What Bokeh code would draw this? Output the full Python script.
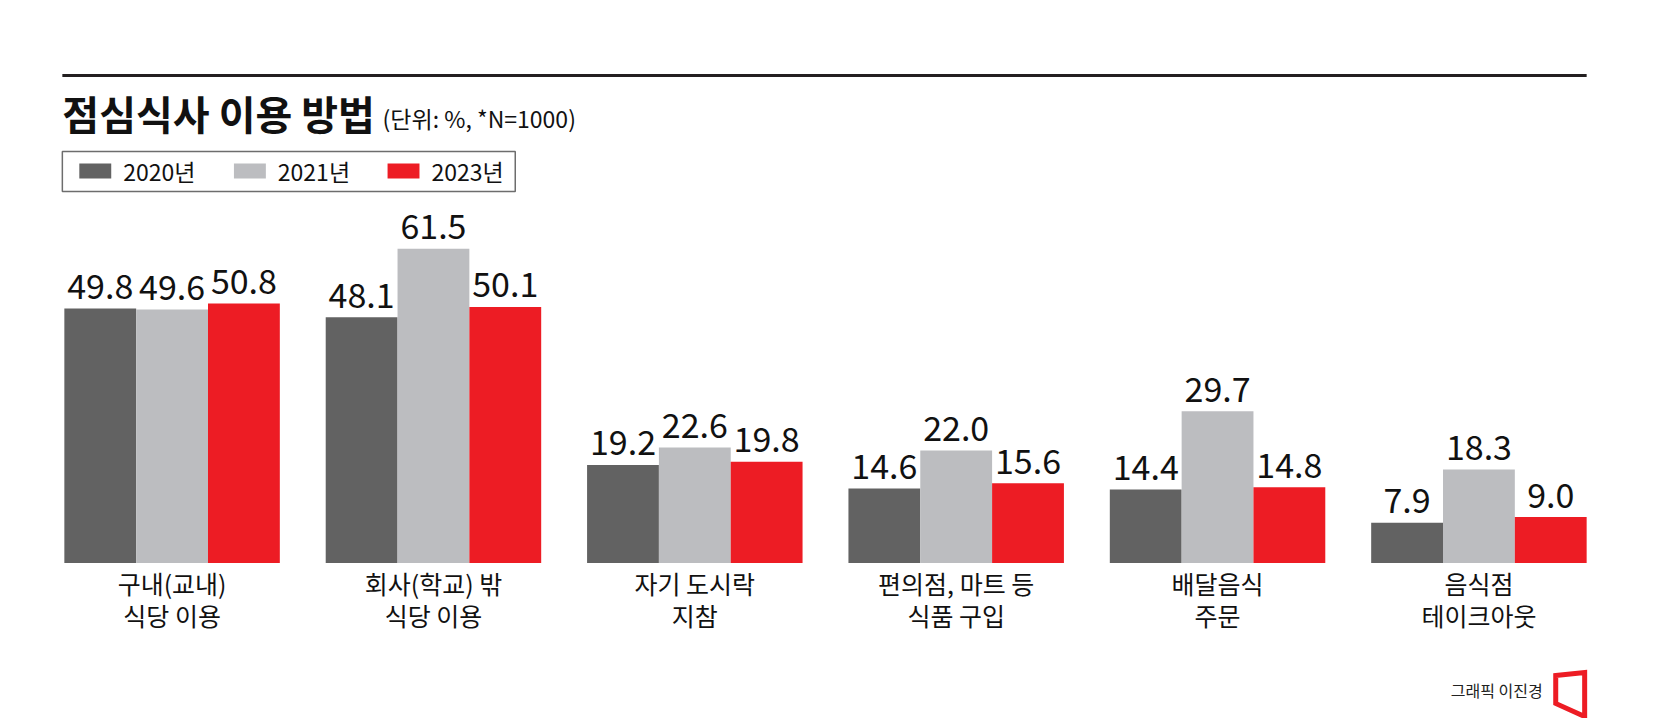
from bokeh.plotting import figure
from bokeh.models import ColumnDataSource, FactorRange, Range1d
from bokeh.core.properties import value
from bokeh.embed import file_html
from bokeh.resources import INLINE

# data (unit: %, N=1000)
categories = ["구내(교내)\n식당 이용", "회사(학교) 밖\n식당 이용", "자기 도시락\n지참",
              "편의점, 마트 등\n식품 구입", "배달음식\n주문", "음식점\n테이크아웃"]
years = ["2020년", "2021년", "2023년"]
v2020 = [49.8, 48.1, 19.2, 14.6, 14.4, 7.9]
v2021 = [49.6, 61.5, 22.6, 22.0, 29.7, 18.3]
v2023 = [50.8, 50.1, 19.8, 15.6, 14.8, 9.0]
colors = ["#626262", "#bcbdc0", "#ed1c24"]

FONT = "Noto Sans CJK KR"
W, H = 1650, 718
UNIT = 72          # px per bar
LEFT = 64          # px where the first bar starts
ZERO_Y = 562.5     # px of value 0
PX_PER = 5.11      # px per percent


# pixel -> data coords, only used for decorations (title, legend, credit)
def xpx(px):
    return (px - LEFT) / UNIT


def ypx(py):
    return (ZERO_Y - py) / PX_PER


factors = [(c, y) for c in categories for y in years]
vals = [v for trio in zip(v2020, v2021, v2023) for v in trio]
src = ColumnDataSource(dict(x=factors, top=vals, color=colors * len(categories),
                            label=[f"{v:.1f}" for v in vals],
                            label_y=[v + 22 / PX_PER for v in vals]))

x_range = FactorRange(*factors, group_padding=46 / UNIT, range_padding=LEFT / UNIT,
                      range_padding_units="absolute")
p = figure(width=W, height=H, x_range=x_range, y_range=Range1d(ypx(H), ypx(0)),
           x_axis_location=None, y_axis_location=None, toolbar_location=None, tools="",
           output_backend="svg", min_border=0, outline_line_color=None)
p.grid.visible = False

# bars
p.vbar(x="x", top="top", bottom=0, width=1.0, fill_color="color", line_color=None, source=src)

# value labels
p.text(x="x", y="label_y", text="label", source=src, text_align="center", text_baseline="middle",
       text_font=value(FONT), text_font_size="34px", text_color="#111111")

# category labels (two lines) under the middle bar of each group
mid = [(c, years[1]) for c in categories]
line1 = [c.split("\n")[0] for c in categories]
line2 = [c.split("\n")[1] for c in categories]
p.text(x=mid, y=[ypx(582)] * len(categories), text=line1, text_align="center",
       text_baseline="middle", text_font=value(FONT), text_font_size="25px", text_color="#111111")
p.text(x=mid, y=[ypx(614)] * len(categories), text=line2, text_align="center",
       text_baseline="middle", text_font=value(FONT), text_font_size="25px", text_color="#111111")

# top rule and title
p.segment(x0=xpx(62), x1=xpx(1590), y0=ypx(75), y1=ypx(75), line_color="#231f20", line_width=3)
p.text(x=[xpx(62)], y=[ypx(112)], text=["점심식사 이용 방법"], text_baseline="middle",
       text_font=value(FONT), text_font_style="bold", text_font_size="40px", text_color="#111111")
p.text(x=[xpx(383)], y=[ypx(117)], text=["(단위: %, *N=1000)"], text_baseline="middle",
       text_font=value(FONT), text_font_size="23px", text_color="#111111")

# legend box
p.quad(left=xpx(62), right=xpx(516), bottom=ypx(191), top=ypx(151),
       fill_color=None, line_color="#6d6d6d", line_width=1.5)
swatch_px = [79, 234, 388]
p.quad(left=[xpx(s) for s in swatch_px], right=[xpx(s + 32) for s in swatch_px],
       bottom=ypx(178), top=ypx(163), fill_color=colors, line_color=None)
p.text(x=[xpx(s + 44) for s in swatch_px], y=[ypx(170)] * 3, text=years, text_baseline="middle",
       text_font=value(FONT), text_font_size="23px", text_color="#111111")

# credit
p.text(x=[xpx(1546)], y=[ypx(689)], text=["그래픽 이진경"], text_align="right",
       text_baseline="middle", text_font=value(FONT), text_font_size="16px", text_color="#222222")
logo_x = [1559, 1588, 1588, 1559]
logo_y = [675, 672, 716, 703]
p.patch(x=[xpx(v) for v in logo_x], y=[ypx(v) for v in logo_y], fill_color=None,
        line_color="#ed1c24", line_width=5, line_join="miter")

open("out.html", "w").write(file_html(p, INLINE))
